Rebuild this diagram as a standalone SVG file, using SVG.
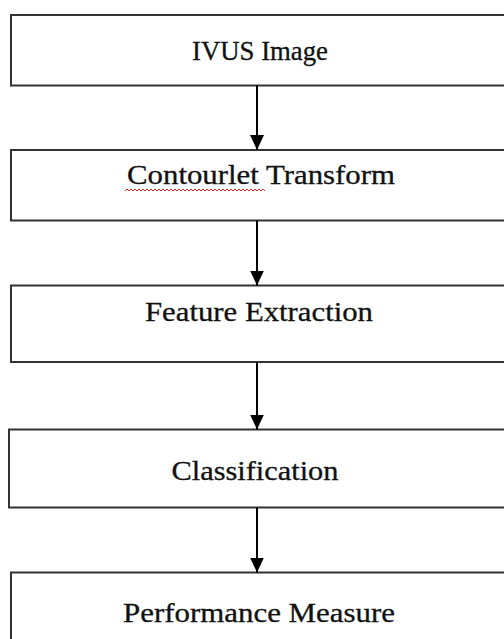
<svg xmlns="http://www.w3.org/2000/svg" width="504" height="639" viewBox="0 0 504 639">
<style>
.box{fill:#fff;stroke:#333;stroke-width:2}
.lbl{font-family:"Liberation Serif","Times New Roman",serif;font-size:27px;fill:#111;stroke:#111;stroke-width:0.3;text-anchor:middle}
.conn{stroke:#000;stroke-width:2;fill:none}
.spell{stroke:#e22;stroke-width:1;fill:none}
</style>
<defs>
<marker id="ah" markerWidth="15" markerHeight="14" refX="15" refY="7" orient="auto" markerUnits="userSpaceOnUse" viewBox="0 0 15 14">
<path d="M0,0 L15,7 L0,14 Z" fill="#000"/>
</marker>
</defs>
<rect width="504" height="639" fill="#fff"/>
<g id="n1"><rect class="box" x="11" y="15" width="520" height="70.5"/><text class="lbl" x="260" y="60" textLength="136" lengthAdjust="spacingAndGlyphs">IVUS Image</text></g>
<g id="n2"><rect class="box" x="11" y="150" width="520" height="70.5"/><text class="lbl" x="261" y="184" textLength="268" lengthAdjust="spacingAndGlyphs">Contourlet Transform</text>
<path class="spell" d="M125,191 l2,-2 l2,2 l2,-2 l2,2 l2,-2 l2,2 l2,-2 l2,2 l2,-2 l2,2 l2,-2 l2,2 l2,-2 l2,2 l2,-2 l2,2 l2,-2 l2,2 l2,-2 l2,2 l2,-2 l2,2 l2,-2 l2,2 l2,-2 l2,2 l2,-2 l2,2 l2,-2 l2,2 l2,-2 l2,2 l2,-2 l2,2 l2,-2 l2,2 l2,-2 l2,2 l2,-2 l2,2 l2,-2 l2,2 l2,-2 l2,2 l2,-2 l2,2 l2,-2 l2,2 l2,-2 l2,2 l2,-2 l2,2 l2,-2 l2,2 l2,-2 l2,2 l2,-2 l2,2 l2,-2 l2,2 l2,-2 l2,2 l2,-2 l2,2 l2,-2 l2,2 l2,-2 l2,2 l2,-2 l2,2"/></g>
<g id="n3"><rect class="box" x="11" y="285.5" width="520" height="76.5"/><text class="lbl" x="259" y="320.5" textLength="228" lengthAdjust="spacingAndGlyphs">Feature Extraction</text></g>
<g id="n4"><rect class="box" x="9" y="429.5" width="520" height="78"/><text class="lbl" x="255" y="480" textLength="167" lengthAdjust="spacingAndGlyphs">Classification</text></g>
<g id="n5"><rect class="box" x="11" y="572.5" width="520" height="80"/><text class="lbl" x="259" y="622" textLength="272" lengthAdjust="spacingAndGlyphs">Performance Measure</text></g>
<g id="connectors">
<line class="conn" x1="257" y1="85.5" x2="257" y2="150" marker-end="url(#ah)"/>
<line class="conn" x1="257" y1="220.5" x2="257" y2="285.5" marker-end="url(#ah)"/>
<line class="conn" x1="257" y1="362" x2="257" y2="429.5" marker-end="url(#ah)"/>
<line class="conn" x1="257" y1="507.5" x2="257" y2="572.5" marker-end="url(#ah)"/>
</g>
</svg>
